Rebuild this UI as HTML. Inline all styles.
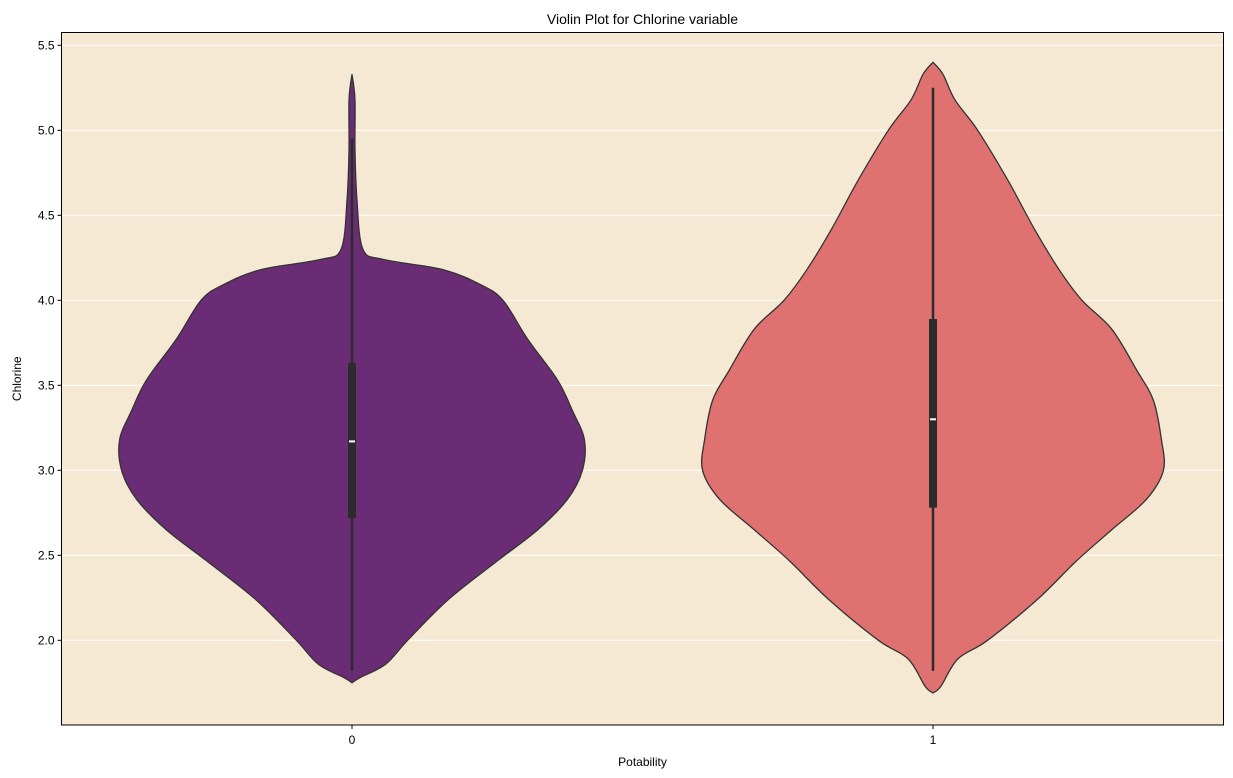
<!DOCTYPE html>
<html><head><meta charset="utf-8"><style>body{margin:0;background:#fff}svg{display:block;font-family:"Liberation Sans","DejaVu Sans",sans-serif}</style></head>
<body>
<svg id="c" width="1233" height="778"></svg>
<script>
const categories=["0","1"];
const yTicks=[2.0,2.5,3.0,3.5,4.0,4.5,5.0,5.5];
const v0Values=[1.75,1.78,1.86,2.0,2.24,2.47,2.65,2.83,3.0,3.18,3.35,3.53,3.77,4.0,4.09,4.18,4.24,4.3,4.59,4.89,5.18,5.33];
const v0Density=[0,8,34,56,97,147,187,217,232,234,222,207,177,152,130,92,32,11,5,3,3,0];
const v1Values=[1.69,1.73,1.89,2.0,2.24,2.47,2.65,2.83,3.0,3.18,3.41,3.59,3.83,4.0,4.18,4.41,4.71,5.0,5.18,5.33,5.4];
const v1Density=[0,8,25,55,105,145,180,215,232,230,222,205,180,150,127,103,75,45,22,10,0];
const q1=[2.72,2.78],q3=[3.63,3.89],med=[3.17,3.30],wLo=[1.82,1.82],wHi=[4.95,5.25];
const colors=["#6a2c74","#df7270"];
const L=61.5,R=1223.5,T=32.5,B=725;
const y=v=>640.3-(v-2)*170;
const x=i=>L+(i+0.5)*(R-L)/2;
const wScale=d=>d*232.4/234;
const svg=document.getElementById('c');const NS="http://www.w3.org/2000/svg";
function mk(t,a,p){const e=document.createElementNS(NS,t);for(const k in a)e.setAttribute(k,a[k]);(p||svg).appendChild(e);return e;}
function smooth(pts){let d=`M${pts[0][0]},${pts[0][1]}`;for(let i=0;i<pts.length-1;i++){const p0=pts[Math.max(0,i-1)],p1=pts[i],p2=pts[i+1],p3=pts[Math.min(pts.length-1,i+2)];d+=` C${p1[0]+(p2[0]-p0[0])/6},${p1[1]+(p2[1]-p0[1])/6} ${p2[0]-(p3[0]-p1[0])/6},${p2[1]-(p3[1]-p1[1])/6} ${p2[0]},${p2[1]}`;}return d;}
let bg=mk('rect',{x:L,y:T,width:R-L,height:B-T,fill:'#f5e9d4'});

yTicks.forEach(t=>{const g=mk('line',{x1:L,x2:R,y1:y(t),y2:y(t),stroke:'#fff','stroke-width':1});

const tk=mk('line',{x1:L-4,x2:L,y1:y(t),y2:y(t),stroke:'#000'});

const tx=mk('text',{x:L-7,y:y(t)+4,'text-anchor':'end','font-size':12});tx.textContent=t.toFixed(1);
});
[[v0Values,v0Density],[v1Values,v1Density]].forEach(([vals,dens],i)=>{
const cx=x(i);const right=vals.map((v,j)=>[cx+wScale(dens[j]),y(v)]);const left=vals.map((v,j)=>[cx-wScale(dens[j]),y(v)]).reverse();
const d=smooth(right)+' '+smooth(left).replace('M','L')+'Z';
const p=mk('path',{d,fill:colors[i],stroke:'#333','stroke-width':1.3});

const w=mk('line',{x1:cx,x2:cx,y1:y(wLo[i]),y2:y(wHi[i]),stroke:'#2b2b2b','stroke-width':2.5});

const b=mk('rect',{x:cx-4,y:y(q3[i]),width:8,height:y(q1[i])-y(q3[i]),fill:'#2b2b2b'});

const m=mk('line',{x1:cx-3,x2:cx+3,y1:y(med[i]),y2:y(med[i]),stroke:'#fff','stroke-width':2});

const tk=mk('line',{x1:cx,x2:cx,y1:B,y2:B+4,stroke:'#000'});

const tx=mk('text',{x:cx,y:B+19,'text-anchor':'middle','font-size':12});tx.textContent=categories[i];
});
const fr=mk('rect',{x:L,y:T,width:R-L,height:B-T,fill:'none',stroke:'#000','stroke-width':1});

const tt=mk('text',{x:(L+R)/2,y:24,'text-anchor':'middle','font-size':14});tt.textContent='Violin Plot for Chlorine variable';

const xt=mk('text',{x:(L+R)/2,y:766,'text-anchor':'middle','font-size':12});xt.textContent='Potability';

const yt=mk('text',{x:0,y:0,'text-anchor':'middle','font-size':12,transform:`translate(21,${(T+B)/2}) rotate(-90)`});yt.textContent='Chlorine';

</script>
</body></html>
